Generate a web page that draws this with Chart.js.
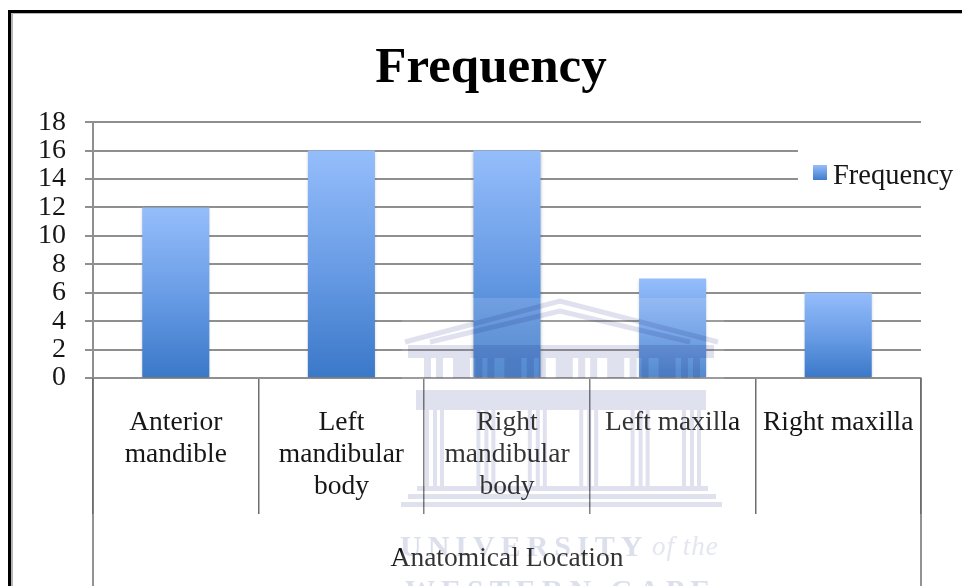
<!DOCTYPE html>
<html><head><meta charset="utf-8">
<style>html,body{margin:0;padding:0;background:#fff;overflow:hidden}
#w{position:absolute;left:0;top:0;width:962px;height:586px;filter:blur(0.45px)}</style>
<script src="https://cdn.jsdelivr.net/npm/chart.js@4"></script></head>
<body><div id="w"><canvas id="c" width="962" height="586"></canvas></div>
<script>
const categories=[["Anterior","mandible"],["Left","mandibular","body"],["Right","mandibular","body"],["Left maxilla"],["Right maxilla"]];
const frequency=[12,16,16,7,6];
const seriesName="Frequency";
const chartTitle="Frequency";
const xTitle="Anatomical Location";
const serif='"Liberation Serif","DejaVu Serif",serif';
const ink='#161616', lineCol='#8f8f8f';

function barGradient(ctx){
  const ch=ctx.chart; if(!ch.chartArea||ctx.parsed===undefined||ctx.dataIndex===undefined)return '#5f97e0';
  const y=ch.scales.y, g=ch.ctx.createLinearGradient(0,y.getPixelForValue(frequency[ctx.dataIndex]),0,y.getPixelForValue(0));
  g.addColorStop(0,'#95bdfb');g.addColorStop(.5,'#6a9de6');g.addColorStop(1,'#3a78c8');return g;
}
const frame={id:'frame',
  beforeDraw(ch){const c=ch.ctx;c.save();c.fillStyle='#fff';c.fillRect(0,0,962,586);
    c.fillStyle='#000';c.fillRect(8,10,954,3);c.fillRect(8,10,3,576);
    c.fillStyle='#b5b5b5';c.fillRect(11,13,951,1);c.fillRect(11,13,2,573);c.restore();},
  beforeDatasetsDraw(ch){ch.ctx.save();ch.ctx.shadowColor='rgba(0,0,0,.25)';ch.ctx.shadowBlur=3;ch.ctx.shadowOffsetY=1;},
  afterDatasetsDraw(ch){ch.ctx.restore();},
  afterDraw(ch){const c=ch.ctx,x=ch.scales.x,y0=x.top;c.save();
    c.strokeStyle='#6e6e6e';c.lineWidth=1.5;
    [x.left,x.right].forEach(p=>{c.beginPath();c.moveTo(p,y0);c.lineTo(p,586);c.stroke();});
    // legend, over a white panel that interrupts the gridlines
    c.fillStyle='#fff';c.fillRect(798,135,164,58);
    const g=c.createLinearGradient(0,165,0,181);g.addColorStop(0,'#95bdfb');g.addColorStop(1,'#3a78c8');
    c.fillStyle=g;c.fillRect(813,165,14,15);
    c.fillStyle=ink;c.font='28.5px '+serif;c.textBaseline='middle';c.textAlign='left';c.fillText(seriesName,833,177);
    // pale crest watermark
    c.fillStyle='rgba(255,255,255,.13)';c.fillRect(402,298,322,288);
    c.globalCompositeOperation='multiply';
    const w='#dfe1ee';c.fillStyle=w;c.strokeStyle=w;c.lineWidth=5;
    [[405,342,560,301,718,342],[430,342,560,311,690,342]].forEach(a=>{c.beginPath();c.moveTo(a[0],a[1]);c.lineTo(a[2],a[3]);c.lineTo(a[4],a[5]);c.stroke();});
    c.fillRect(408,345,306,13);
    for(let i=0;i<6;i++){const p=425+i*51.4;c.fillRect(p-1,358,7,20);c.fillRect(p+11,358,7,20);if(i<5)c.fillRect(p+28,358,17,20);}
    c.fillRect(416,390,290,20);
    for(let i=0;i<6;i++){const p=425+i*51.4;c.fillRect(p,410,4,76);c.fillRect(p+8,410,4,76);c.fillRect(p+15,410,4,76);}
    [[417,291],[408,308],[401,321]].forEach((a,i)=>c.fillRect(a[0],486+i*8,a[1],5));
    c.fillStyle='#dcdfec';c.textBaseline='alphabetic';c.textAlign='left';
    c.font='bold 30px '+serif;c.letterSpacing='6px';c.fillText('UNIVERSITY',400,556);
    c.letterSpacing='1px';c.font='italic 27px '+serif;c.fillStyle='#e4e6f0';c.fillText('of the',652,555);
    c.font='bold 30px '+serif;c.fillStyle='#dcdfec';c.letterSpacing='6px';c.fillText('WESTERN CAPE',405,600);
    c.restore();}
};
new Chart(document.getElementById('c'),{
  type:'bar',
  data:{labels:categories,datasets:[{label:seriesName,data:frequency,backgroundColor:barGradient,borderWidth:0,barPercentage:.405,categoryPercentage:1}]},
  plugins:[frame],
  options:{responsive:false,animation:false,
    layout:{padding:{left:20,right:0,top:38,bottom:0}},
    plugins:{legend:{display:false},tooltip:{enabled:false},
      title:{display:true,text:chartTitle,color:'#000',font:{family:serif,size:51,weight:'bold'},padding:{top:0,bottom:23}}},
    scales:{
      y:{min:0,max:18,afterFit(s){s.width=73;},
        ticks:{stepSize:2,color:ink,font:{family:serif,size:28},padding:19,autoSkip:false},
        grid:{color:lineCol,lineWidth:2,tickLength:8},border:{color:lineCol,width:2}},
      rightGutter:{type:'linear',position:'right',afterFit(s){s.width=41;},
        ticks:{display:false},grid:{display:false,drawTicks:false},border:{display:false}},
      x:{afterFit(s){s.height=208;},
        ticks:{color:ink,font:{family:serif,size:27.5,lineHeight:1.165},padding:-107,maxRotation:0,autoSkip:false},
        grid:{drawOnChartArea:false,color:'#6e6e6e',lineWidth:1.5,tickLength:136,offset:true},border:{color:lineCol,width:2},
        title:{display:true,text:xTitle,color:ink,font:{family:serif,size:27.5},padding:{top:0,bottom:11}}}
    }}
});
</script></body></html>
